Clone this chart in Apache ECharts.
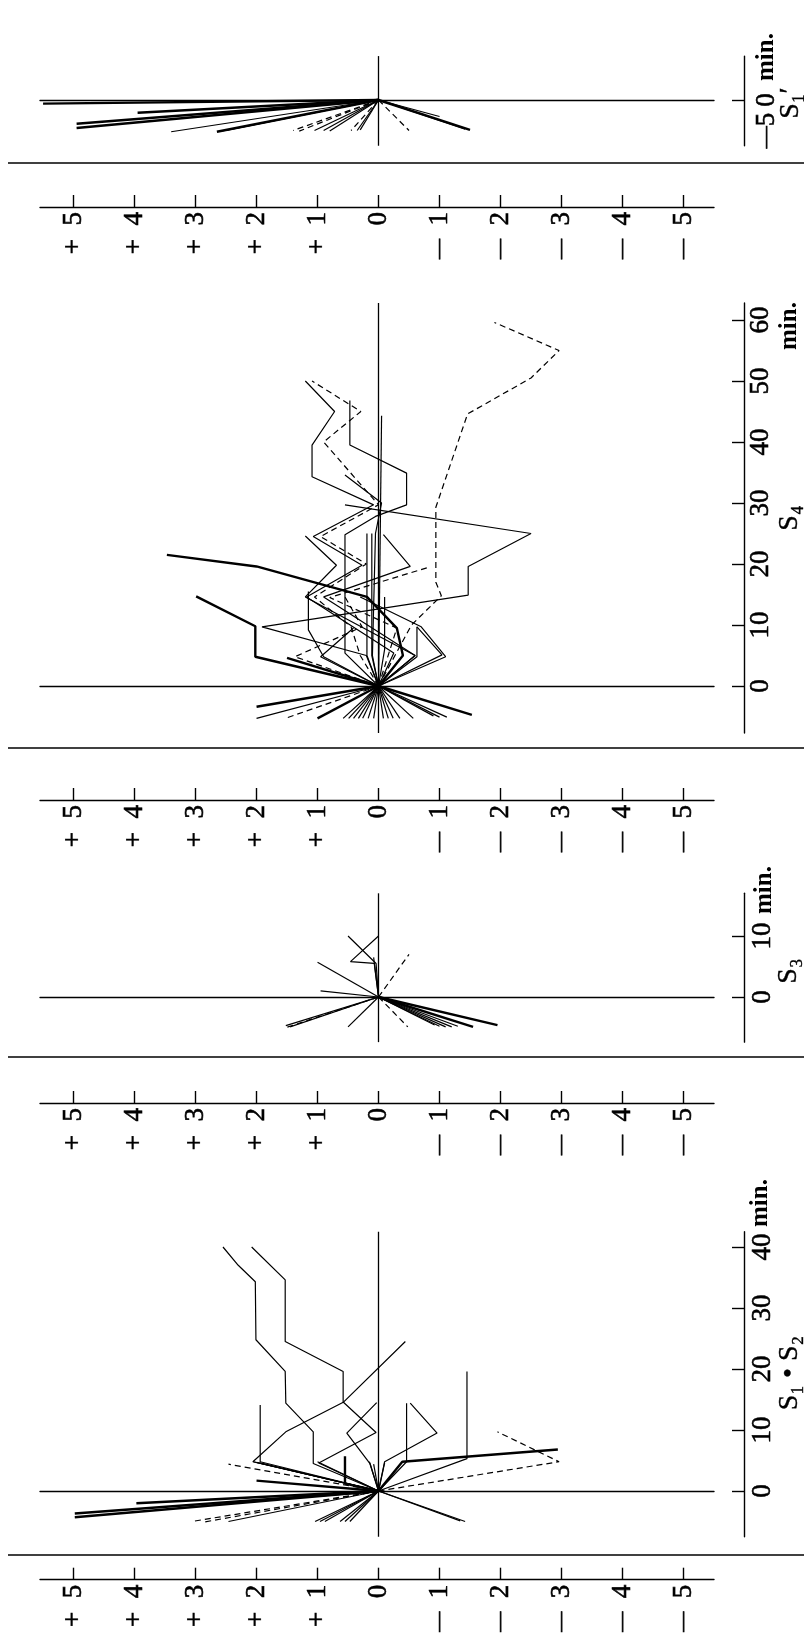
<!DOCTYPE html>
<html>
<head>
<meta charset="utf-8">
<script src="https://cdn.jsdelivr.net/npm/echarts@6/dist/echarts.min.js"></script>
<style>
  html, body { margin: 0; padding: 0; background: #fff; }
  #chart { width: 804px; height: 1635px; }
</style>
</head>
<body>
<div id="chart"></div>
<script>
// ---- scale ticks -------------------------------------------------------
const valueTicks = [5, 4, 3, 2, 1, 0, -1, -2, -3, -4, -5];
const s1pTimeTicks = [0];
const s1pTimeLabels = [-5, 0];
const s4TimeTicks = [-5, 0, 10, 20, 30, 40, 50, 60];
const s3TimeTicks = [-5, 0, 10];
const s12TimeTicks = [-5, 0, 10, 20, 30, 40];

// ---- traces: [value, minutes] -----------------------------------------
// S1'
const s1pThick = [
  [[0, 0], [5.5, -0.6]],
  [[0, 0], [3.95, -2.1]],
  [[0, 0], [4.95, -3.9]],
  [[0, 0], [4.95, -4.6]],
  [[0, 0], [2.65, -5.2]],
  [[0, 0], [-1.5, -4.9]]
];
const s1pThin = [
  [[0, 0], [3.4, -5.2]],
  [[0, 0], [2.5, -5.0]],
  [[0, 0], [2.58, -5.1]],
  [[0, 0], [1.05, -5.0]],
  [[0, 0], [0.9, -5.0]],
  [[0, 0], [0.8, -5.1]],
  [[0, 0], [0.35, -5.0]],
  [[0, 0], [0.3, -4.9]],
  [[0, 0], [-1.0, -2.7]],
  [[0, 0], [-1.42, -4.8]]
];
const s1pDashed = [
  [[0, 0], [1.4, -5.0]],
  [[0, 0], [1.3, -5.1]],
  [[0, 0], [0.45, -5.0]],
  [[0, 0], [-0.5, -5.0]]
];

// S4
const s4Thick = [
  [[0, 0], [-0.4, 5], [-0.3, 9.5], [0.19, 14.6], [2.0, 19.6], [3.47, 21.5]],
  [[0, 0], [2.02, 4.8], [2.02, 9.8], [2.99, 14.7]],
  [[0, 0], [1.5, 4.6]],
  [[0, 0], [2.0, -3.4]],
  [[0, 0], [1.0, -5.3]],
  [[0, 0], [-1.53, -4.75]]
];
const s4Thin = [
  [[0, 0], [-0.25, 5.4], [1.18, 14.6], [0.27, 19.8], [1.07, 24.5], [0.08, 29.7], [1.09, 34.3], [1.09, 39.5], [0.72, 45], [1.2, 50]],
  [[0, 0], [-0.6, 5], [1.2, 14.6], [0.69, 19.8], [1.2, 24.6]],
  [[0, 0], [0.55, 5.4], [0.55, 24.8], [0.05, 27.8], [-0.46, 29.7], [-0.46, 34.9], [0.47, 39.5], [0.47, 46.8]],
  [[0, 0], [0.2, 5], [1.91, 9.7], [-1.47, 14.9], [-1.47, 19.6], [-2.5, 25], [0.55, 29.7]],
  [[0, 0], [-0.05, 44.3]],
  [[0, 0], [0.19, 5], [0.19, 25]],
  [[0, 0], [0.11, 5], [0.11, 25]],
  [[0, 0], [-0.1, 6], [-0.1, 14.6]],
  [[0, 0], [-0.6, 5], [0.9, 14.6], [-0.52, 19.6], [-0.08, 24.8]],
  [[0, 0], [-1.04, 5.1], [-0.63, 9.7]],
  [[0, 0], [-0.63, 4.8], [-0.63, 9.7]],
  [[0, 0], [-1.1, 4.8], [-0.7, 9.7], [0.3, 14.6]],
  [[0, 0], [0.9, 4.8], [1.15, 9.2], [1.15, 15.5]],
  [[0, 0], [0.1, 5], [0.05, 25], [-0.05, 30], [0.55, 34.6]],
  [[0, 0], [0.95, 4.8], [0.41, 9.5]],
  [[0, 0], [2.0, -5.3]],
  [[0, 0], [0.58, -5.3]],
  [[0, 0], [0.49, -5.3]],
  [[0, 0], [0.41, -5.3]],
  [[0, 0], [0.33, -5.3]],
  [[0, 0], [0.26, -5.3]],
  [[0, 0], [0.17, -5.3]],
  [[0, 0], [0.08, -5.3]],
  [[0, 0], [-0.08, -5.3]],
  [[0, 0], [-0.16, -5.3]],
  [[0, 0], [-0.24, -5.3]],
  [[0, 0], [-0.35, -5.3]],
  [[0, 0], [-0.57, -5.3]],
  [[0, 0], [-0.9, -4.9]],
  [[0, 0], [-1.0, -5.1]],
  [[0, 0], [-1.12, -5.1]]
];
const s4Dashed = [
  [[0, 0], [-0.54, 10], [-1.03, 14.8], [-0.94, 17], [-0.94, 29.3], [-1.46, 44.6], [-2.5, 50.5], [-2.96, 55], [-1.9, 59.6]],
  [[0, 0], [0.3, 5], [0.45, 9.7], [1.05, 14.6], [0.2, 20], [0.95, 24.5], [0.0, 29.7], [0.9, 40], [0.29, 45], [1.09, 50]],
  [[0, 0], [1.37, 4.8], [0.27, 9.7], [0.55, 14.6]],
  [[0, 0], [-0.3, 9.5], [0.8, 14.5], [-0.8, 19.4]],
  [[0, 0], [1.5, -5.2]]
];

// S3
const s3Thick = [
  [[0, 0], [-1.95, -4.6]],
  [[0, 0], [-1.55, -4.9]]
];
const s3Thin = [
  [[0, 0], [0.04, 5.5], [0.5, 10]],
  [[0, 0], [0.07, 5.5], [0.46, 5.8], [0.0, 10]],
  [[0, 0], [1.0, 5.7]],
  [[0, 0], [0.95, 1.0]],
  [[0, 0], [0.08, 6.5]],
  [[0, 0], [1.52, -4.7]],
  [[0, 0], [1.45, -4.9]],
  [[0, 0], [0.5, -4.9]],
  [[0, 0], [-0.92, -4.6]],
  [[0, 0], [-1.0, -4.8]],
  [[0, 0], [-1.1, -4.9]],
  [[0, 0], [-1.2, -4.9]],
  [[0, 0], [-1.3, -4.8]]
];
const s3Dashed = [
  [[0, 0], [1.5, -4.95]],
  [[0, 0], [-0.5, 7]],
  [[0, 0], [-0.48, -4.9]]
];

// S1 · S2
const s12Thick = [
  [[0, 0], [4.98, -3.7]],
  [[0, 0], [4.98, -4.3]],
  [[0, 0], [3.97, -2.0]],
  [[0, 0], [2.0, 1.7]],
  [[0, 0], [-0.39, 4.8], [-2.94, 6.8]],
  [[0, 0], [0.55, 1.2], [0.55, 5.7]]
];
const s12Thin = [
  [[0, 0], [1.07, 4.5], [1.07, 9.7], [1.52, 14.4], [1.53, 19.6], [2.01, 24.8], [2.02, 34.3], [2.3, 37], [2.55, 40]],
  [[0, 0], [0.98, 4.6], [0.04, 9.6], [0.58, 14.6], [0.58, 19.6], [1.53, 24.5], [1.53, 34.6], [2.08, 40]],
  [[0, 0], [2.06, 4.8], [1.52, 9.7], [0.57, 14.6], [-0.44, 24.5]],
  [[0, 0], [0.14, 4.5], [0.52, 9.5], [0.03, 14.5]],
  [[0, 0], [1.94, 4.8], [1.94, 14.1]],
  [[0, 0], [-0.46, 4.8], [-0.46, 14.4]],
  [[0, 0], [-0.1, 4.8], [-0.96, 9.5], [-0.52, 14.4]],
  [[0, 0], [-1.45, 5.3], [-1.45, 19.6]],
  [[0, 0], [2.05, 4.8]],
  [[0, 0], [2.0, 4.7]],
  [[0, 0], [1.95, 4.6]],
  [[0, 0], [1.0, 4.8]],
  [[0, 0], [0.15, 4.8]],
  [[0, 0], [-0.1, 4.6]],
  [[0, 0], [0.08, 4.4]],
  [[0, 0], [2.46, -5.0]],
  [[0, 0], [1.04, -5.0]],
  [[0, 0], [0.96, -5.0]],
  [[0, 0], [0.88, -5.0]],
  [[0, 0], [0.63, -5.0]],
  [[0, 0], [0.55, -5.0]],
  [[0, 0], [0.47, -5.0]],
  [[0, 0], [-1.34, -4.9]],
  [[0, 0], [-1.42, -5.0]]
];
const s12Dashed = [
  [[0, 0], [-2.96, 4.8], [-1.95, 9.7]],
  [[0, 0], [2.46, 4.4]],
  [[0, 0], [3.06, -5.0]],
  [[0, 0], [2.87, -5.1]]
];

// ---- layout ------------------------------------------------------------
const SERIF = '"Liberation Serif", "DejaVu Serif", serif';
const INK = '#000';
const PX_PER_MIN = 6.1;
const PLOT_LEFT = 40, PLOT_WIDTH = 674;
const V_MIN = -5.5, V_MAX = 5.55;

const panels = [
  { name: 'S₁′', zero: 100, tMin: -7.5, tMax: 7.2, ticks: s1pTimeTicks, labels: s1pTimeLabels, pad: false, margin: 9,
    thick: s1pThick, thin: s1pThin, dashed: s1pDashed,
    unit: [767, 57], title: [791, 103] },
  { name: 'S₄', zero: 686, tMin: -7.7, tMax: 62.8, ticks: s4TimeTicks, labels: s4TimeTicks, pad: true, margin: 3,
    thick: s4Thick, thin: s4Thin, dashed: s4Dashed,
    unit: [790, 326], title: [790, 518] },
  { name: 'S₃', zero: 997, tMin: -7.4, tMax: 17, ticks: s3TimeTicks, labels: s3TimeTicks, pad: true, margin: 5,
    thick: s3Thick, thin: s3Thin, dashed: s3Dashed,
    unit: [765, 890], title: [789, 971] },
  { name: 'S₁ • S₂', zero: 1491, tMin: -7.5, tMax: 42.5, ticks: s12TimeTicks, labels: s12TimeTicks, pad: true, margin: 5,
    thick: s12Thick, thin: s12Thin, dashed: s12Dashed,
    unit: [761, 1203], title: [790, 1373] }
];
const rulerLines = [207, 800, 1103, 1597];
const separators = [163, 748, 1057, 1555];

const grids = [], xAxes = [], yAxes = [], series = [], graphics = [];

const dashStyle = { fontFamily: SERIF, color: INK, textBorderColor: INK, textBorderWidth: 0.6 };
const labelFont = { fontFamily: SERIF, color: INK, textBorderColor: INK, textBorderWidth: 0.6 };

function rulerLabel(v) {
  if (v > 0) return '+\u2002' + v;
  if (v < 0) return '{d|\u2014}\u2002' + (-v);
  return '0';
}

const styles = {
  thin:   { color: INK, width: 1.2, type: 'solid' },
  thick:  { color: INK, width: 2.4, type: 'solid' },
  dashed: { color: INK, width: 1.2, type: [6, 4] }
};

panels.forEach((p, i) => {
  // plot grid
  const gi = grids.length;
  const top = p.zero - p.tMax * PX_PER_MIN;
  const height = (p.tMax - p.tMin) * PX_PER_MIN;
  grids.push({ left: PLOT_LEFT, width: PLOT_WIDTH, top: top, height: height });
  xAxes.push({
    gridIndex: gi, type: 'value', inverse: true, min: V_MIN, max: V_MAX,
    axisLine: { show: true, onZero: true, lineStyle: { color: INK, width: 1.4 } },
    axisTick: { show: false }, axisLabel: { show: false }, splitLine: { show: false }
  });
  yAxes.push({
    gridIndex: gi, type: 'value', position: 'right', offset: 30, min: p.tMin, max: p.tMax,
    axisLine: { show: true, onZero: false, lineStyle: { color: INK, width: 1.4 } },
    axisTick: { show: true, inside: true, length: 12, customValues: p.ticks, lineStyle: { color: INK, width: 1.4 } },
    axisLabel: Object.assign({
      show: true, rotate: 90, margin: p.margin, customValues: p.labels, fontSize: 27,
      rich: { d: Object.assign({ fontSize: 22 }, dashStyle) },
      formatter: v => v < 0 ? '{d|\u2014}' + (-v) + (p.pad ? '\u2003' : '') : String(v)
    }, labelFont),
    splitLine: { show: false }
  });
  // zero reference line (vertical)
  series.push({
    type: 'line', xAxisIndex: gi, yAxisIndex: gi, data: [[0, 0]], symbol: 'none', silent: true,
    lineStyle: { width: 0 },
    markLine: {
      silent: true, symbol: ['none', 'none'], label: { show: false },
      lineStyle: { color: INK, width: 1.3, type: 'solid' },
      data: [{ xAxis: 0 }]
    }
  });
  [['thin', p.thin], ['dashed', p.dashed], ['thick', p.thick]].forEach(([kind, list]) => {
    list.forEach(pts => series.push({
      type: 'line', xAxisIndex: gi, yAxisIndex: gi, data: pts,
      symbol: 'none', silent: true, smooth: false, lineStyle: styles[kind]
    }));
  });
  graphics.push({
    type: 'text', x: p.unit[0], y: p.unit[1], rotation: Math.PI / 2,
    style: { text: 'min.', fontFamily: SERIF, fontSize: 25, fontWeight: 'bold', fill: INK,
             align: 'center', verticalAlign: 'middle' }
  });
  graphics.push({
    type: 'text', x: p.title[0], y: p.title[1], rotation: Math.PI / 2,
    style: { text: p.name, fontFamily: SERIF, fontSize: 28, fill: INK, stroke: INK, lineWidth: 0.4,
             align: 'center', verticalAlign: 'middle' }
  });

  // value ruler beneath the panel
  const ri = grids.length;
  grids.push({ left: PLOT_LEFT, width: PLOT_WIDTH, top: rulerLines[i] - 30, height: 30 });
  xAxes.push({
    gridIndex: ri, type: 'value', inverse: true, min: V_MIN, max: V_MAX, position: 'bottom',
    axisLine: { show: true, onZero: false, lineStyle: { color: INK, width: 1.4 } },
    axisTick: { show: true, inside: true, length: 12, customValues: valueTicks, lineStyle: { color: INK, width: 1.4 } },
    axisLabel: Object.assign({
      show: true, rotate: 90, margin: 5, customValues: valueTicks, fontSize: 27,
      rich: { d: Object.assign({ fontSize: 20 }, dashStyle) },
      formatter: rulerLabel
    }, labelFont),
    splitLine: { show: false }
  });
  yAxes.push({ gridIndex: ri, type: 'value', min: 0, max: 1, show: false });

  graphics.push({
    type: 'line', silent: true,
    shape: { x1: 8, y1: separators[i], x2: 804, y2: separators[i] },
    style: { stroke: INK, lineWidth: 1.6 }
  });
});

const chart = echarts.init(document.getElementById('chart'), null, { renderer: 'canvas' });
chart.setOption({
  backgroundColor: '#fff',
  animation: false,
  grid: grids,
  xAxis: xAxes,
  yAxis: yAxes,
  series: series,
  graphic: graphics
});
</script>
</body>
</html>
